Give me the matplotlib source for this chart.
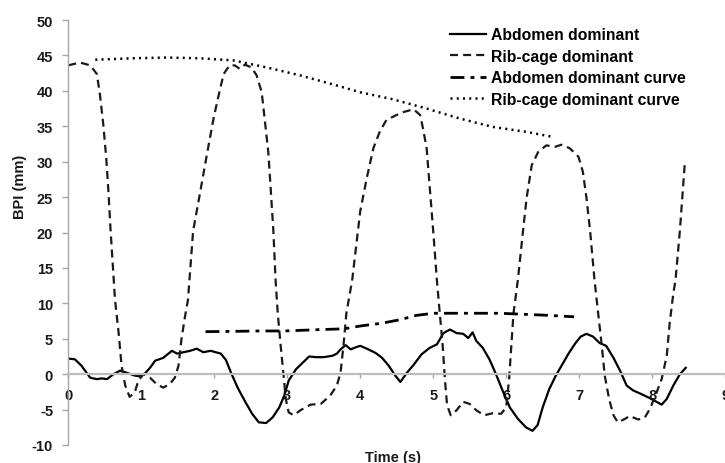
import numpy as np
import matplotlib
matplotlib.use('Agg')
import matplotlib.pyplot as plt

plt.rcParams['font.family'] = ['Liberation Sans', 'DejaVu Sans']
plt.rcParams['font.weight'] = 'bold'
plt.rcParams['axes.unicode_minus'] = False

# Abdomen dominant (solid)
abd_t = [0.00, 0.09, 0.18, 0.30, 0.39, 0.46, 0.53, 0.62, 0.71, 0.80,
         0.91, 0.97, 1.05, 1.12, 1.19, 1.30, 1.42, 1.49, 1.58, 1.67,
         1.76, 1.85, 1.95, 2.09, 2.16, 2.23, 2.32, 2.43, 2.52, 2.61,
         2.71, 2.80, 2.89, 2.96, 3.02, 3.12, 3.21, 3.30, 3.39, 3.50,
         3.62, 3.68, 3.73, 3.80, 3.87, 3.94, 4.00, 4.09, 4.21, 4.30,
         4.39, 4.48, 4.55, 4.64, 4.73, 4.84, 4.95, 5.05, 5.09, 5.14,
         5.23, 5.32, 5.41, 5.48, 5.54, 5.59, 5.68, 5.77, 5.86, 5.95,
         6.05, 6.16, 6.27, 6.36, 6.43, 6.50, 6.59, 6.68, 6.77, 6.86,
         6.95, 7.02, 7.10, 7.19, 7.28, 7.37, 7.47, 7.56, 7.65, 7.74,
         7.85, 7.97, 8.06, 8.13, 8.20, 8.29, 8.38, 8.46]
abd_bpi = [2.2, 2.1, 1.2, -0.5, -0.7, -0.6, -0.7, 0.0, 0.5, 0.2,
           -0.2, -0.3, 0.1, 0.9, 1.9, 2.3, 3.3, 2.9, 3.1, 3.3,
           3.6, 3.1, 3.3, 2.9, 2.0, 0.2, -1.9, -4.0, -5.6, -6.8,
           -6.9, -6.1, -4.7, -3.0, -0.9, 0.7, 1.6, 2.5, 2.4, 2.4,
           2.6, 2.9, 3.5, 4.1, 3.5, 3.8, 4.0, 3.6, 3.0, 2.3,
           1.2, -0.2, -1.1, 0.2, 1.3, 2.8, 3.7, 4.2, 4.9, 5.8,
           6.3, 5.8, 5.7, 5.1, 5.9, 4.7, 3.7, 2.1, 0.0, -2.3,
           -4.7, -6.3, -7.5, -8.0, -7.2, -4.7, -2.1, -0.2, 1.4, 3.0,
           4.4, 5.3, 5.7, 5.3, 4.4, 4.0, 2.3, 0.5, -1.6, -2.3,
           -2.8, -3.4, -3.9, -4.3, -3.5, -1.6, 0.0, 0.9]

# Rib-cage dominant (dashed)
rib_t = [0.00, 0.16, 0.30, 0.39, 0.43, 0.48, 0.52, 0.55, 0.58, 0.64,
         0.69, 0.73, 0.78, 0.84, 0.91, 0.96, 1.03, 1.12, 1.21, 1.30,
         1.39, 1.46, 1.51, 1.55, 1.60, 1.64, 1.71, 1.80, 1.89, 1.99,
         2.08, 2.13, 2.21, 2.28, 2.35, 2.42, 2.51, 2.58, 2.65, 2.69,
         2.74, 2.77, 2.81, 2.84, 2.87, 2.91, 2.95, 2.98, 3.02, 3.09,
         3.18, 3.32, 3.46, 3.59, 3.68, 3.73, 3.77, 3.81, 3.89, 4.00,
         4.09, 4.18, 4.27, 4.36, 4.50, 4.59, 4.73, 4.82, 4.86, 4.91,
         4.95, 5.00, 5.05, 5.09, 5.13, 5.16, 5.19, 5.24, 5.32, 5.41,
         5.50, 5.59, 5.70, 5.82, 5.93, 6.00, 6.04, 6.07, 6.10, 6.16,
         6.23, 6.28, 6.35, 6.44, 6.55, 6.67, 6.76, 6.87, 6.99, 7.05,
         7.10, 7.15, 7.21, 7.26, 7.31, 7.35, 7.41, 7.47, 7.53, 7.63,
         7.69, 7.81, 7.90, 7.97, 8.06, 8.13, 8.20, 8.24, 8.29, 8.32,
         8.38, 8.45]
rib_bpi = [43.6, 44.0, 43.6, 42.4, 39.8, 35.2, 30.5, 25.8, 20.2, 10.5,
           5.8, 1.2, -1.6, -3.2, -2.6, -0.9, 0.0, -0.5, -1.4, -1.9,
           -1.4, -0.5, 1.2, 4.9, 8.2, 10.5, 20.2, 25.3, 30.5, 36.1,
           40.3, 42.4, 43.6, 43.6, 43.1, 43.7, 43.3, 42.2, 39.8, 36.1,
           31.4, 26.7, 20.2, 13.3, 8.6, 4.0, -0.2, -3.5, -5.4, -5.8,
           -5.1, -4.3, -4.2, -3.0, -1.6, 0.2, 4.0, 8.6, 13.3, 23.0,
           27.7, 31.9, 34.3, 35.9, 36.6, 37.0, 37.4, 36.6, 34.7, 31.9,
           26.7, 20.2, 13.3, 8.6, 4.0, -0.7, -4.4, -5.8, -5.1, -3.9,
           -4.2, -5.1, -5.8, -5.5, -5.6, -4.7, -0.7, 4.0, 8.6, 13.3,
           20.2, 24.9, 29.5, 31.4, 32.3, 32.1, 32.4, 31.9, 30.7, 28.6,
           24.9, 20.2, 13.3, 8.6, 4.0, -0.2, -3.5, -5.8, -6.8, -6.3,
           -5.9, -6.4, -6.1, -4.9, -2.6, -0.7, 2.6, 7.2, 11.4, 13.3,
           20.3, 30.2]

# Abdomen dominant curve (dash-dot)
abd_curve_t = [1.88, 2.30, 2.61, 2.96, 3.46, 3.78, 4.00, 4.30, 4.55, 4.77,
               5.00, 5.45, 5.91, 6.36, 6.59, 6.93]
abd_curve_bpi = [6.0, 6.05, 6.1, 6.1, 6.3, 6.4, 6.8, 7.2, 7.7, 8.3,
                 8.6, 8.6, 8.6, 8.4, 8.3, 8.1]

# Rib-cage dominant curve (dotted)
rib_curve_t = [0.37, 0.89, 1.35, 1.80, 2.26, 2.72, 3.17, 3.63, 4.00, 4.45,
               4.91, 5.36, 5.82, 6.28, 6.64]
rib_curve_bpi = [44.4, 44.6, 44.7, 44.6, 44.3, 43.3, 42.2, 40.9, 39.8, 38.8,
                 37.5, 36.1, 34.9, 34.2, 33.5]

x_ticks = np.arange(0, 10, 1)
y_ticks = np.arange(-10, 55, 5)

fig = plt.figure(figsize=(7.25, 4.64), dpi=100)
ax = fig.add_axes([0.0942, 0.0388, 0.906, 0.9159])

ax.plot(abd_t, abd_bpi, color='black', lw=1.6, label='Abdomen dominant')
ax.plot(rib_t, rib_bpi, color='#1a1a1a', lw=1.6, linestyle=(0, (3.6, 2.3)),
        label='Rib-cage dominant')
ax.plot(abd_curve_t, abd_curve_bpi, color='black', lw=2.0,
        linestyle=(0, (5, 2.2, 1.4, 2.2)), label='Abdomen dominant curve')
ax.plot(rib_curve_t, rib_curve_bpi, color='black', lw=1.8,
        linestyle=(0, (0.8, 1.7)), label='Rib-cage dominant curve')

ax.set_xlim(0, 9)
ax.set_ylim(-10, 50)
ax.set_xticks(x_ticks)
ax.set_yticks(y_ticks)

for s in ['top', 'right']:
    ax.spines[s].set_visible(False)
ax.spines['bottom'].set_position(('data', 0))
ax.spines['bottom'].set_color('#bdbdbd')
ax.spines['bottom'].set_linewidth(1.6)
ax.spines['left'].set_color('#a6a6a6')
ax.spines['left'].set_linewidth(1.0)

ax.tick_params(axis='x', colors='#a6a6a6', length=3, width=1.0, pad=7,
               labelcolor='#1a1a1a', labelsize=10.5)
ax.tick_params(axis='y', colors='#a6a6a6', length=4, width=1.0, pad=7,
               labelcolor='#1a1a1a', labelsize=10.5)

ax.set_xlabel('Time (s)', fontsize=10.5, fontweight='bold', color='#1a1a1a')
ax.xaxis.set_label_coords(0.494, -0.012)
ax.set_ylabel('BPI (mm)', fontsize=10.5, fontweight='bold', color='#1a1a1a')
ax.yaxis.set_label_coords(-0.063, 0.61)

ax.legend(loc='upper left', bbox_to_anchor=(450 / 725, 1 - 28 / 464),
          bbox_transform=fig.transFigure, frameon=False,
          prop={'size': 11.3, 'weight': 'bold'}, handlelength=2.3,
          handletextpad=0.3, borderpad=0, borderaxespad=0, labelspacing=0.42)

fig.savefig('out.png', dpi=100)
